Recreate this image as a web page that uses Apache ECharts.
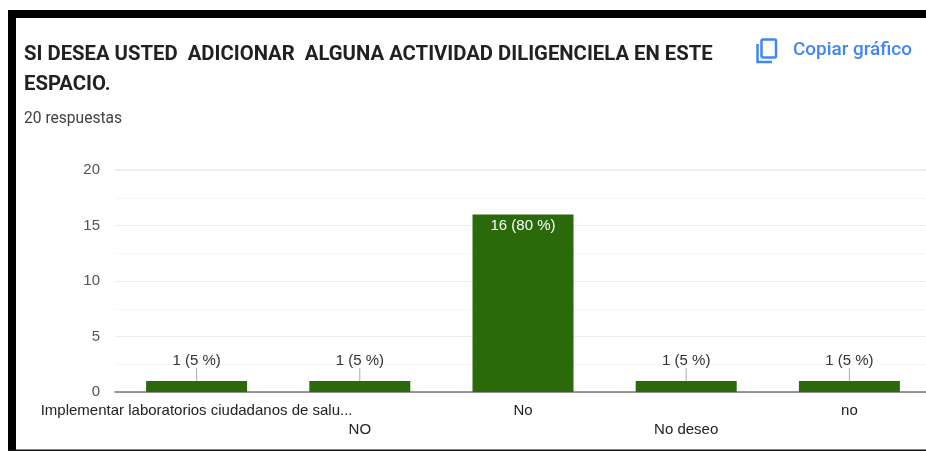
<!DOCTYPE html>
<html><head><meta charset="utf-8">
<style>html,body{margin:0;padding:0;background:#fff}#c{width:926px;height:451px}</style>
<script src="https://cdn.jsdelivr.net/npm/echarts@6/dist/echarts.min.js"></script>
</head><body><div id="c"></div>
<script>
const titleLines = ['SI DESEA USTED  ADICIONAR  ALGUNA ACTIVIDAD DILIGENCIELA EN ESTE', 'ESPACIO.'];
const subtitle = '20 respuestas';
const copyLabel = 'Copiar gráfico';
const categories = ['Implementar laboratorios ciudadanos de salu...', 'NO', 'No', 'No deseo', 'no'];
const counts = [1, 1, 16, 1, 1];
const pointLabels = ['1 (5 %)', '1 (5 %)', '16 (80 %)', '1 (5 %)', '1 (5 %)'];
const yTicks = [0, 5, 10, 15, 20];

const chart = echarts.init(document.getElementById('c'), null, {renderer: 'canvas'});
chart.setOption({
  animation: false,
  backgroundColor: '#fff',
  title: [{
    text: titleLines.join('\n'), left: 24, top: 40, padding: 0,
    textStyle: {fontFamily: 'Roboto', fontWeight: 'bold', fontSize: 20.3, lineHeight: 30, color: '#212121'}
  }, {
    text: subtitle, left: 24, top: 111, padding: 0,
    textStyle: {fontFamily: 'Roboto', fontWeight: 'normal', fontSize: 15.6, color: '#424242'}
  }],
  grid: {left: 115, width: 816, top: 170, bottom: 59, containLabel: false, outerBoundsMode: 'none'},
  xAxis: {
    type: 'category', data: categories,
    axisTick: {show: false},
    axisLine: {lineStyle: {color: '#757575', width: 1.5}},
    axisLabel: {
      interval: 0, margin: 9, color: '#222', fontFamily: 'Liberation Sans', fontSize: 15, lineHeight: 19,
      formatter: (v, i) => (i % 2 ? '\n' + v : v)
    }
  },
  yAxis: {
    type: 'value', min: yTicks[0], max: yTicks[yTicks.length - 1], interval: 5,
    axisLine: {show: false}, axisTick: {show: false},
    axisLabel: {margin: 15, padding: [2, 0, 0, 0], color: '#555', fontFamily: 'Liberation Sans', fontSize: 15},
    splitLine: {lineStyle: {color: '#ececec', width: 1}},
    minorTick: {show: false, splitNumber: 2},
    minorSplitLine: {show: true, lineStyle: {color: '#f6f6f6', width: 1}}
  },
  series: [{
    type: 'bar', barWidth: 101,
    itemStyle: {color: '#2a6a0a'},
    data: counts.map(v => ({
      value: v,
      label: v > 5
        ? {show: true, position: 'insideTop', distance: 4, color: '#fff'}
        : {show: true, position: 'top', distance: 0, color: '#333'}
    })),
    label: {
      formatter: p => pointLabels[p.dataIndex],
      fontFamily: 'Liberation Sans', fontSize: 15
    },
    labelLayout: p => (counts[p.dataIndex] > 5 ? {} : {dy: -13}),
    labelLine: {show: true, lineStyle: {color: '#aaaaaa', width: 1}},
    markLine: {
      silent: true, symbol: 'none', label: {show: false},
      lineStyle: {color: '#eeeeee', width: 2, type: 'solid'},
      data: [{yAxis: yTicks[yTicks.length - 1]}]
    }
  }],
  graphic: [
    {type: 'rect', shape: {x: 8, y: 10, width: 918, height: 8}, style: {fill: '#000'}},
    {type: 'rect', shape: {x: 8, y: 10, width: 8, height: 441}, style: {fill: '#000'}},
    {type: 'rect', shape: {x: 8, y: 449.5, width: 918, height: 1.5}, style: {fill: '#111'}},
    {type: 'group', x: 756, y: 38, children: [
      {type: 'polyline', shape: {points: [[1.5, 6], [1.5, 24], [16, 24]]}, style: {fill: 'none', stroke: '#4285f4', lineWidth: 2.5}},
      {type: 'rect', shape: {x: 5.5, y: 1.5, width: 14.5, height: 18, r: 1.5}, style: {fill: 'none', stroke: '#4285f4', lineWidth: 2.5}}
    ]},
    {type: 'text', x: 793, y: 41, style: {text: copyLabel, fill: '#4285f4', font: '500 18.9px Roboto'}}
  ]
});
</script></body></html>
